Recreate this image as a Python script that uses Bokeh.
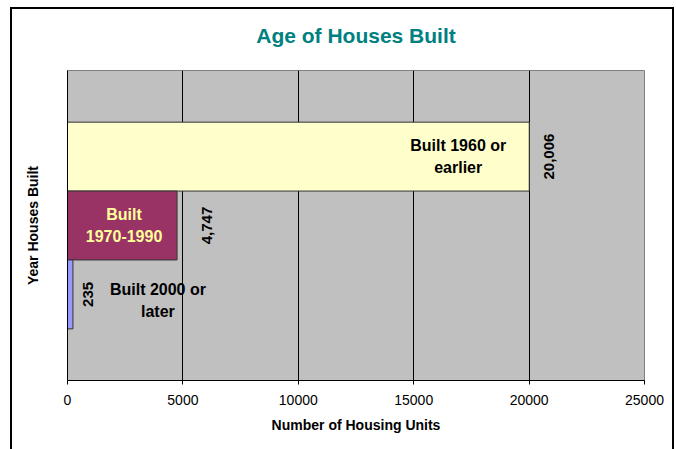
from math import pi
from bokeh.plotting import figure
from bokeh.models import ColumnDataSource, FixedTicker
from bokeh.embed import file_html
from bokeh.resources import INLINE
from bokeh.core.properties import value

# ---- data ----
chart_title = "Age of Houses Built"
series = ["Built 1960 or earlier", "Built 1970-1990", "Built 2000 or later"]
series_text = ["Built 1960 or\nearlier", "Built\n1970-1990", "Built 2000 or\nlater"]
units = [20006, 4747, 235]
x_ticks = [0, 5000, 10000, 15000, 20000, 25000]

# ---- styles ----
bar_colors = ["#FFFFCC", "#993366", "#9999FF"]
name_colors = ["#000000", "#FFFF99", "#000000"]
value_label_dx = [20, 30, 15]        # px right of bar end
name_label_dx = [-71, -53, 85]       # px from bar end
name_label_dy = [0, 0, 6]

FONT = "Liberation Sans"

n = len(series)
# first series drawn at the top (Excel-like series stacking, gap width 150%)
ypos = [n - 1 - i for i in range(n)]

src = ColumnDataSource(dict(
    series=series,
    y=ypos,
    units=units,
    color=bar_colors,
    vlabel=[f"{u:,}" for u in units],
    nlabel=series_text,
    ncolor=name_colors,
    vdx=value_label_dx,
    ndx=name_label_dx,
    ndy=name_label_dy,
))

p = figure(
    width=676, height=449,
    output_backend="svg", toolbar_location=None,
    x_range=(0, 25000),
    y_range=(-0.5 - 0.75, n - 0.5 + 0.75),
    min_border_left=67, min_border_right=32, min_border_top=70, min_border_bottom=69,
    title=chart_title,
)

# chart-area frame (left, top, right edges)
p.border_fill_alpha = 0
p.styles = {
    "background-color": "white",
    "box-shadow": ("inset 10px 0 0 0 white, inset 0 7px 0 0 white, inset -2px 0 0 0 white, "
                   "inset 12px 0 0 0 black, inset 0 9px 0 0 black, inset -4px 0 0 0 black"),
}

p.background_fill_color = "#C0C0C0"
p.outline_line_color = "#808080"
p.outline_line_width = 1

p.title.text_font = FONT
p.title.text_font_size = "21px"
p.title.text_font_style = "bold"
p.title.text_color = "#008080"
p.title.align = "center"
p.title.vertical_align = "top"
p.title.standoff = 43

p.xgrid.grid_line_color = "black"
p.xgrid.grid_line_width = 1
p.ygrid.grid_line_color = None

p.xaxis.ticker = x_ticks
p.xaxis.minor_tick_line_color = None
p.xaxis.major_tick_in = 0
p.xaxis.major_tick_out = 4
p.xaxis.major_tick_line_color = "black"
p.xaxis.axis_line_color = "black"
p.xaxis.major_label_text_font = FONT
p.xaxis.major_label_text_font_size = "14px"
p.xaxis.major_label_text_color = "black"
p.xaxis.major_label_standoff = 10
p.xaxis.axis_label = "Number of Housing Units"
p.xaxis.axis_label_text_font = FONT
p.xaxis.axis_label_text_font_size = "14px"
p.xaxis.axis_label_text_font_style = "bold"
p.xaxis.axis_label_text_color = "black"
p.xaxis.axis_label_standoff = 9

p.yaxis.ticker = FixedTicker(ticks=[])
p.yaxis.axis_label = "Year Houses Built"
p.yaxis.axis_label_text_font = FONT
p.yaxis.axis_label_text_font_size = "14px"
p.yaxis.axis_label_text_font_style = "bold"
p.yaxis.axis_label_text_color = "black"
p.yaxis.major_label_standoff = 0
p.yaxis.major_tick_line_color = None
p.yaxis.minor_tick_line_color = None
p.yaxis.axis_line_color = "black"
p.yaxis.axis_label_standoff = 27

p.hbar(y="y", left=0, right="units", height=1, fill_color="color",
       line_color="#333333", line_width=1, source=src)

p.text(x="units", y="y", text="vlabel", angle=pi / 2, x_offset="vdx",
       text_align="center", text_baseline="middle",
       text_font=value(FONT), text_font_size="15px", text_font_style="bold",
       text_color="black", source=src)

p.text(x="units", y="y", text="nlabel", x_offset="ndx", y_offset="ndy",
       text_align="center", text_baseline="middle", text_line_height=1.3,
       text_font=value(FONT), text_font_size="16px", text_font_style="bold",
       text_color="ncolor", source=src)

open("out.html", "w").write(file_html(p, INLINE))
